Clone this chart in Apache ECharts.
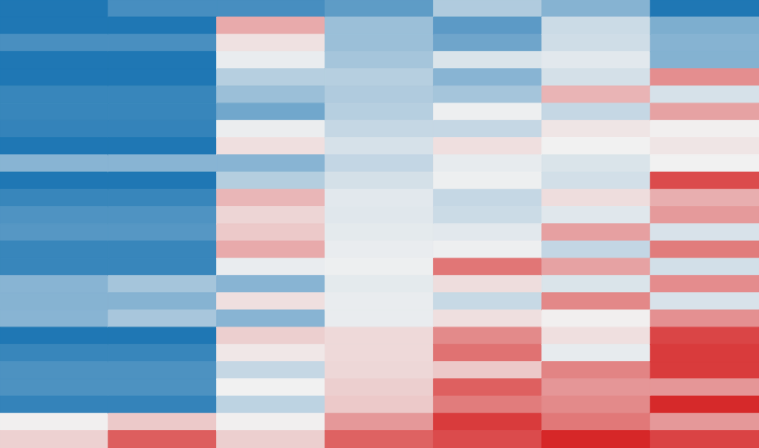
<!DOCTYPE html>
<html>
<head>
  <meta charset="utf-8">
  <title>heatmap</title>
  <script src="https://cdn.jsdelivr.net/npm/echarts@6/dist/echarts.min.js"></script>
  <style>
    html, body { margin: 0; padding: 0; background: #fff; }
    #heat-echarts-box { width: 759px; height: 448px; }
  </style>
</head>
<body>
<section id="heat-echarts-box"></section>

<script>
  /******************/
  //region    //data

  // column categories (no labels shown in the picture)
  let columns = ['c1', 'c2', 'c3', 'c4', 'c5', 'c6', 'c7'];

  // row categories, top to bottom
  let rows = [];
  for (let i = 1; i <= 26; i++) rows.push('r' + i);

  // one array per column, values top to bottom (-1 blue .. 0 light .. +1 red)
  let col1 = [-1, -1, -0.8, -1, -1, -0.88, -0.88, -0.9, -1, -0.5, -1, -0.88, -0.77,
    -0.74, -0.88, -0.88, -0.5, -0.51, -0.5, -1, -0.88, -0.78, -0.78, -0.9, 0.01, 0.16];
  let col2 = [-0.81, -1, -0.8, -1, -1, -0.88, -0.88, -0.9, -1, -0.5, -1, -0.88, -0.77,
    -0.74, -0.88, -0.88, -0.36, -0.51, -0.35, -1, -0.88, -0.78, -0.78, -0.9, 0.2, 0.73];
  let col3 = [-0.81, 0.35, 0.08, -0.04, -0.28, -0.41, -0.61, -0.03, 0.09, -0.5, -0.29, 0.29, 0.14,
    0.2, 0.35, -0.04, -0.5, 0.09, -0.5, 0.17, 0.05, -0.21, 0, -0.25, 0.01, 0.17];
  let col4 = [-0.7, -0.41, -0.41, -0.36, -0.28, -0.31, -0.28, -0.21, -0.13, -0.22, -0.14, -0.07, -0.08,
    -0.06, -0.04, -0.02, -0.06, -0.04, -0.04, 0.12, 0.12, 0.13, 0.17, 0.2, 0.44, 0.71];
  let col5 = [-0.31, -0.71, -0.62, -0.11, -0.5, -0.36, -0.02, -0.21, 0.09, -0.05, -0.02, -0.21, -0.18,
    -0.07, -0.02, 0.61, 0.1, -0.2, 0.09, 0.51, 0.63, 0.2, 0.72, 0.58, 0.9, 0.82];
  let col6 = [-0.51, -0.18, -0.16, -0.07, -0.14, 0.3, -0.21, 0.06, 0, -0.11, -0.15, 0.1, -0.08,
    0.4, -0.22, 0.39, -0.11, 0.52, 0.01, 0.09, -0.05, 0.54, 0.45, 0.51, 0.6, 1];
  let col7 = [-1, -0.55, -0.51, -0.52, 0.49, -0.13, 0.39, 0.01, 0.06, 0, 0.82, 0.33, 0.43,
    -0.12, 0.58, -0.15, 0.5, -0.12, 0.48, 0.85, 0.9, 0.9, 0.45, 0.99, 0.44, 0.86];

  let colorStops = ['#1f77b4', '#f1f1f1', '#d62728'];

  //endregion

  /******************/
  //region    //function

  /**
   * same colour as the visualMap gives, used for the cell border so
   * neighbouring cells don't show a hairline seam
   */
  function cellColor(v) {
    let t = (Math.max(-1, Math.min(1, v)) + 1) / 2;
    return echarts.color.lerp(t, colorStops);
  }

  /**
   * build [x, y, value] items from the column arrays
   */
  function buildData() {
    let cols = [col1, col2, col3, col4, col5, col6, col7];
    let out = [];
    cols.forEach((col, x) => {
      col.forEach((v, y) => out.push({
        value: [x, y, v],
        itemStyle: {borderColor: cellColor(v), borderWidth: 0.8},
      }));
    });
    return out;
  }

  /**
   * configure heatmap
   */
  function deployEchart() {
    let echart = echarts.init(document.getElementById('heat-echarts-box'));

    let option = {
      animation: false,
      grid: {
        top: -2,
        left: 0,
        right: 0,
        bottom: 0,
      },
      xAxis: {
        type: 'category',
        data: columns,
        show: false,
      },
      yAxis: {
        type: 'category',
        data: rows,
        inverse: true,
        show: false,
      },
      visualMap: {
        show: false,
        min: -1,
        max: 1,
        dimension: 2,
        inRange: {
          color: colorStops,
        },
      },
      series: [
        {
          type: 'heatmap',
          data: buildData(),
          emphasis: {
            disabled: true,
          },
        }
      ]
    };

    echart.setOption(option);
  }

  deployEchart();

  //endregion
</script>
</body>
</html>
